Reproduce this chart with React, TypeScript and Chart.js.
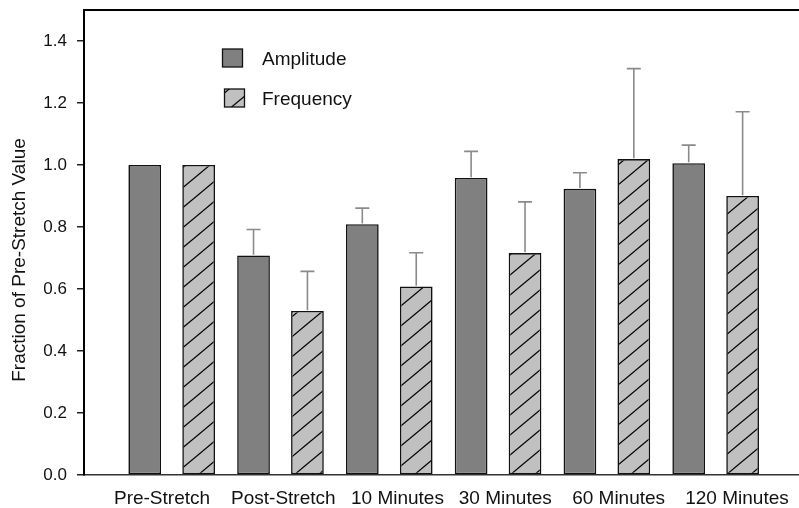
import React, { useEffect, useRef } from "react";
import { Chart, registerables } from "chart.js";

Chart.register(...registerables);

const categories = ["Pre-Stretch", "Post-Stretch", "10 Minutes", "30 Minutes", "60 Minutes", "120 Minutes"];
const amplitude = [1.0, 0.708, 0.809, 0.958, 0.923, 1.006];
const amplitudeErr = [0, 0.084, 0.052, 0.086, 0.052, 0.058];
const frequency = [1.0, 0.529, 0.608, 0.716, 1.019, 0.9];
const frequencyErr = [0, 0.128, 0.109, 0.165, 0.292, 0.272];
const yTickValues = [0, 0.2, 0.4, 0.6, 0.8, 1.0, 1.2, 1.4];
const seriesNames = ["Amplitude", "Frequency"];
const yTitle = "Fraction of Pre-Stretch Value";

const FONT = "'Liberation Sans', Arial, Helvetica, sans-serif";

function makeHatch(): CanvasPattern | string {
  const c = document.createElement("canvas");
  c.width = 24;
  c.height = 20;
  const g = c.getContext("2d");
  if (!g) return "#c0c0c0";
  g.fillStyle = "#c0c0c0";
  g.fillRect(0, 0, 24, 20);
  g.strokeStyle = "#000";
  g.lineWidth = 1.3;
  for (const dy of [-20, 0, 20]) {
    g.beginPath();
    g.moveTo(-24, 40 + dy);
    g.lineTo(48, -20 + dy);
    g.stroke();
  }
  const p = g.createPattern(c, "repeat");
  return p || "#c0c0c0";
}

const errorBarPlugin = {
  id: "errorBars",
  afterDatasetsDraw(chart: any) {
    const ctx = chart.ctx;
    const y = chart.scales.y;
    const errs = [amplitudeErr, frequencyErr];
    const vals = [amplitude, frequency];
    ctx.save();
    ctx.strokeStyle = "#8a8a8a";
    ctx.lineWidth = 1.6;
    chart.data.datasets.forEach((_ds: any, di: number) => {
      const meta = chart.getDatasetMeta(di);
      meta.data.forEach((bar: any, i: number) => {
        const e = errs[di][i];
        if (!e) return;
        const top = y.getPixelForValue(vals[di][i] + e);
        const x = bar.x;
        ctx.beginPath();
        ctx.moveTo(x, bar.y - 0.8);
        ctx.lineTo(x, top);
        ctx.moveTo(x - 7, top);
        ctx.lineTo(x + 7, top);
        ctx.stroke();
      });
    });
    ctx.restore();
  },
};

const framePlugin = {
  id: "frame",
  afterDraw(chart: any) {
    const ctx = chart.ctx;
    const a = chart.chartArea;
    ctx.save();
    ctx.strokeStyle = "#000";
    ctx.lineWidth = 2;
    ctx.beginPath();
    ctx.moveTo(a.left - 1, a.top);
    ctx.lineTo(chart.width, a.top);
    ctx.stroke();
    ctx.fillStyle = "#111";
    ctx.font = `19px ${FONT}`;
    ctx.textAlign = "center";
    ctx.textBaseline = "middle";
    ctx.translate(19.5, 260);
    ctx.rotate(-Math.PI / 2);
    ctx.fillText(yTitle, 0, 0);
    ctx.restore();

    ctx.save();
    ctx.font = `19px ${FONT}`;
    ctx.textBaseline = "middle";
    ctx.textAlign = "left";
    const rows = [
      { bx: 222.5, by: 49, ty: 60 },
      { bx: 224.5, by: 89, ty: 100 },
    ];
    chart.data.datasets.forEach((ds: any, di: number) => {
      const r = rows[di];
      ctx.fillStyle = ds.backgroundColor;
      ctx.fillRect(r.bx, r.by, 20, 18);
      ctx.strokeStyle = "#111";
      ctx.lineWidth = 1.3;
      ctx.strokeRect(r.bx, r.by, 20, 18);
      ctx.fillStyle = "#111";
      ctx.fillText(ds.label, 262, r.ty);
    });
    ctx.restore();
  },
};

export default function App() {
  const ref = useRef<HTMLCanvasElement | null>(null);

  useEffect(() => {
    if (!ref.current) return;
    const hatch = makeHatch();
    const labelOffsets = [-0.089, 0.026, 0.075, 0.066, 0.108, 0.196];
    const chart = new Chart(ref.current, {
      type: "bar",
      data: {
        datasets: [
          {
            label: seriesNames[0],
            data: amplitude.map((v, i) => ({ x: i, y: v })),
            backgroundColor: "#808080",
            borderColor: "#111",
            borderWidth: 1.6,
            borderSkipped: false,
            categoryPercentage: 1,
            barPercentage: 0.607,
          },
          {
            label: seriesNames[1],
            data: frequency.map((v, i) => ({ x: i, y: v })),
            backgroundColor: hatch as any,
            borderColor: "#111",
            borderWidth: 1.6,
            borderSkipped: false,
            categoryPercentage: 1,
            barPercentage: 0.607,
          },
        ],
      },
      options: {
        animation: false,
        responsive: false,
        events: [],
        layout: { autoPadding: false, padding: { top: 10, left: 0, right: 0, bottom: 0 } },
        plugins: { legend: { display: false }, tooltip: { enabled: false } },
        scales: {
          x: {
            type: "linear",
            offset: false,
            min: -0.806,
            max: 5.766,
            afterBuildTicks: (axis: any) => {
              axis.ticks = categories.map((_c, i) => ({ value: i + labelOffsets[i] }));
            },
            afterFit: (s: any) => {
              s.height = 33;
              s.paddingLeft = 0;
              s.paddingRight = 0;
            },
            ticks: {
              autoSkip: false,
              maxRotation: 0,
              padding: 12,
              color: "#111",
              font: { family: FONT, size: 19 },
              callback: (_v: any, idx: number) => categories[idx],
            },
            grid: { display: false, drawTicks: false },
            border: { display: true, color: "#333", width: 1.6 },
          },
          y: {
            type: "linear",
            min: 0,
            max: 1.5,
            afterBuildTicks: (axis: any) => {
              axis.ticks = yTickValues.map((v) => ({ value: v }));
            },
            afterFit: (s: any) => {
              s.width = 84;
              s.paddingTop = 0;
              s.paddingBottom = 0;
            },
            ticks: {
              padding: 10,
              color: "#111",
              font: { family: FONT, size: 17 },
              callback: (v: any) => Number(v).toFixed(1),
            },
            grid: {
              display: true,
              drawOnChartArea: false,
              drawTicks: true,
              tickLength: 7,
              tickColor: "#222",
              lineWidth: 1.5,
            },
            border: { display: true, color: "#000", width: 2 },
          },
        },
      },
      plugins: [errorBarPlugin, framePlugin],
    } as any);
    return () => chart.destroy();
  }, []);

  return (
    <div style={{ position: "fixed", left: 0, top: 0, width: 799, height: 508, background: "#fff" }}>
      <canvas ref={ref} width={799} height={508} style={{ display: "block" }} />
    </div>
  );
}
